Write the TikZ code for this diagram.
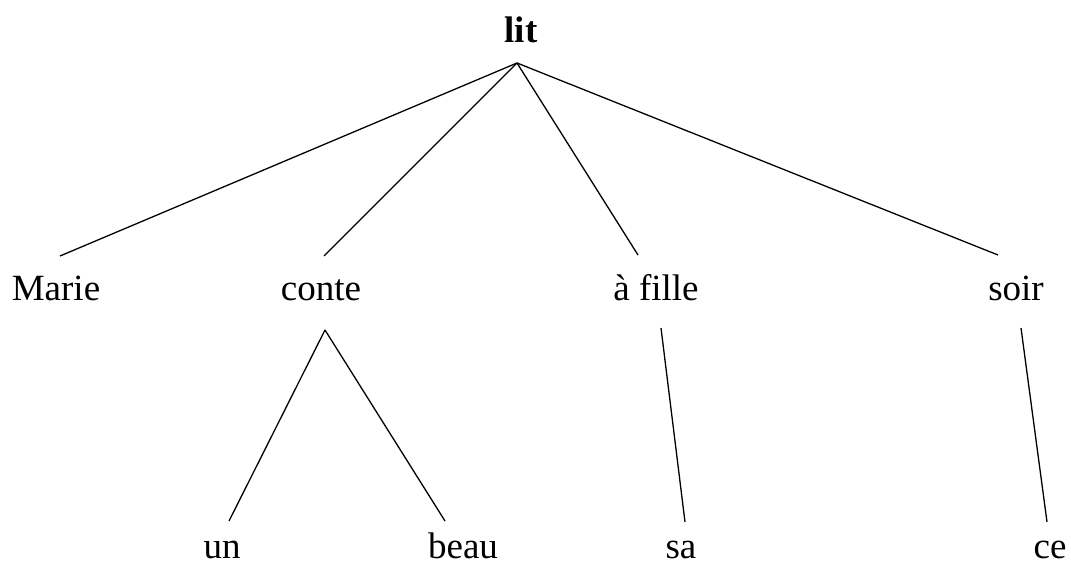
\documentclass[tikz,border=0pt]{standalone}
\usepackage{fontspec}
\setmainfont{Liberation Serif}
\tikzstyle{every path}=[line width=1.3pt]
\tikzstyle{word}=[anchor=base, inner sep=0pt, font=\fontsize{37}{40}\selectfont]
\tikzstyle{root}=[word, font=\fontsize{37}{40}\selectfont\bfseries]
\begin{document}
\begin{tikzpicture}[x=1pt, y=-1pt]
    \useasboundingbox (0,0) rectangle (1071,561);

    % words
    \node[root] (lit) at (521,43) {lit};
    \node[word] (marie) at (56,301) {Marie};
    \node[word] (conte) at (321,301) {conte};
    \node[word] (fille) at (656,301) {à fille};
    \node[word] (soir) at (1016,301) {soir};
    \node[word] (un) at (222,558) {un};
    \node[word] (beau) at (463,558) {beau};
    \node[word] (sa) at (681,558) {sa};
    \node[word] (ce) at (1050,558) {ce};

    % line ends
    \coordinate (lit-foot) at (517,63);
    \coordinate (marie-top) at (60,256);
    \coordinate (conte-top) at (324,256);
    \coordinate (fille-top) at (638,255);
    \coordinate (soir-top) at (998,255);
    \coordinate (conte-foot) at (325,330);
    \coordinate (un-top) at (229,521);
    \coordinate (beau-top) at (445,521);
    \coordinate (fille-foot) at (661,328);
    \coordinate (sa-top) at (685,522);
    \coordinate (soir-foot) at (1021,328);
    \coordinate (ce-top) at (1047,522);

    \draw (lit-foot) -- (marie-top);
    \draw (lit-foot) -- (conte-top);
    \draw (lit-foot) -- (fille-top);
    \draw (lit-foot) -- (soir-top);
    \draw (conte-foot) -- (un-top);
    \draw (conte-foot) -- (beau-top);
    \draw (fille-foot) -- (sa-top);
    \draw (soir-foot) -- (ce-top);
\end{tikzpicture}
\end{document}
